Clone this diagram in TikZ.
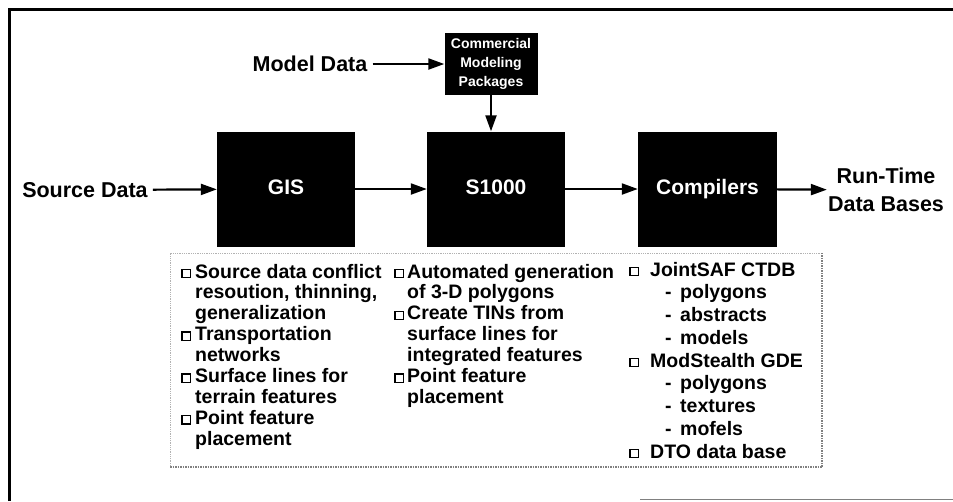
\documentclass[tikz,border=0pt]{standalone}
\usepackage{fontspec}
\setmainfont{Liberation Sans}
\usetikzlibrary{arrows.meta}
\newcommand{\bx}{\raisebox{1pt}{\fboxsep=0pt\fboxrule=1.3pt\fbox{\rule{0pt}{7pt}\hspace{7pt}}}}

\begin{document}
\begin{tikzpicture}[x=1pt,y=-1pt,
	blk/.style={fill=black,text=white,font=\fontsize{21}{24}\selectfont\bfseries,minimum width=138pt,minimum height=115pt,inner sep=0pt,text height=15pt,text depth=4pt},
	lbl/.style={font=\fontsize{21.5}{28}\selectfont\bfseries,inner sep=0pt},
	flow/.style={line width=2.2pt,-{Triangle[length=16pt,width=11pt]}},
	list/.style={inner sep=0pt,anchor=base west}]
		\useasboundingbox (0,0) rectangle (953,501);
		% Frame
		\draw[line width=3pt] (9,501) -- (9,9) -- (953,9);
		\draw[gray,line width=1pt] (640,499) -- (953,499);
		% Blocks
		\node[blk] (gis) at (286,189) {GIS};
		\node[blk] (sthousand) at (496,189) {S1000};
		\node[blk,minimum width=139pt] (compilers) at (707.5,189) {Compilers};
		\node[blk,minimum width=93pt,minimum height=62pt,align=center,text height=,text depth=,font=\fontsize{14}{19}\selectfont\bfseries] (cmp) at (491,64) {Commercial\\Modeling\\Packages};
		% Labels
		\node[lbl] (src) at (85,190) {Source Data};
		\node[lbl] (mdl) at (310,64) {Model Data};
		\node[lbl,align=center] (rtdb) at (886,190) {Run-Time\\Data Bases};
		% Pfeile
		\draw[flow,shorten <=5pt] (src) -- (gis);
		\draw[flow,shorten <=5pt] (mdl) -- (cmp);
		\draw[flow] (cmp) -- (cmp.south |- sthousand.north);
		\draw[flow] (gis) -- (sthousand);
		\draw[flow] (sthousand) -- (compilers);
		\draw[flow,shorten >=1pt] (compilers) -- (rtdb);
		% Task list
		\draw[gray!60,densely dotted,line width=0.8pt] (822,253) -- (170,253) -- (170,467);
		\draw[gray,densely dotted,line width=1.5pt] (170,467) -- (822,467) -- (822,253);
		\node[list] (gistasks) at (181,278) {\fontsize{19.5}{20.9}\selectfont\bfseries
			\begin{tabular}[t]{@{}l@{}l@{}}
				\makebox[14pt][l]{\bx} & Source data conflict\\
				& resoution, thinning,\\
				& generalization\\
				\makebox[14pt][l]{\bx} & Transportation\\
				& networks\\
				\makebox[14pt][l]{\bx} & Surface lines for\\
				& terrain features\\
				\makebox[14pt][l]{\bx} & Point feature\\
				& placement
			\end{tabular}};
		\node[list] (stasks) at (394,278) {\fontsize{19.5}{20.9}\selectfont\bfseries
			\begin{tabular}[t]{@{}l@{}l@{}}
				\makebox[13pt][l]{\bx} & Automated generation\\
				& of 3-D polygons\\
				\makebox[13pt][l]{\bx} & Create TINs from\\
				& surface lines for\\
				& integrated features\\
				\makebox[13pt][l]{\bx} & Point feature\\
				& placement
			\end{tabular}};
		\node[list] (ctasks) at (629,276) {\fontsize{19.5}{22.75}\selectfont\bfseries
			\begin{tabular}[t]{@{}l@{}l@{}}
				\makebox[21pt][l]{\bx} & JointSAF CTDB\\
				& \hspace{15pt}\makebox[15pt][l]{-}polygons\\
				& \hspace{15pt}\makebox[15pt][l]{-}abstracts\\
				& \hspace{15pt}\makebox[15pt][l]{-}models\\
				\makebox[21pt][l]{\bx} & ModStealth GDE\\
				& \hspace{15pt}\makebox[15pt][l]{-}polygons\\
				& \hspace{15pt}\makebox[15pt][l]{-}textures\\
				& \hspace{15pt}\makebox[15pt][l]{-}mofels\\
				\makebox[21pt][l]{\bx} & DTO data base
			\end{tabular}};
	\end{tikzpicture}
\end{document}
